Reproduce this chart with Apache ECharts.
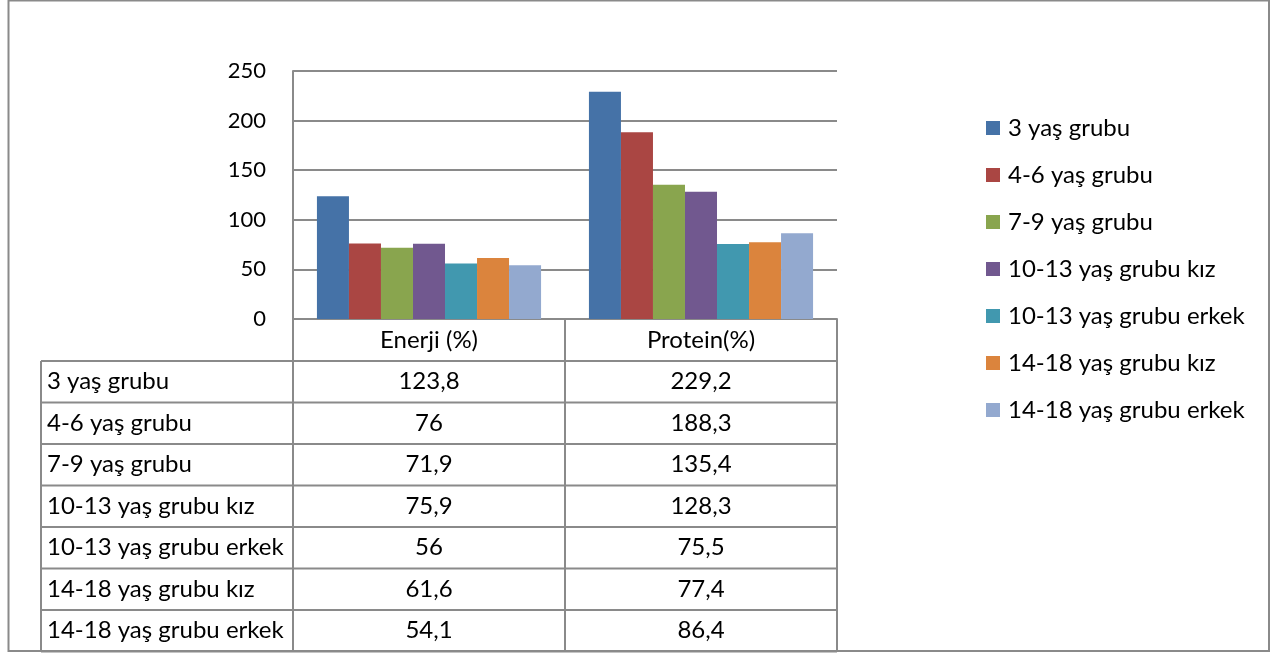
<!DOCTYPE html>
<html>
<head>
<meta charset="utf-8">
<script src="https://cdn.jsdelivr.net/npm/echarts@6/dist/echarts.min.js"></script>
<style>
html, body { margin: 0; padding: 0; background: #fff; }
#chart { width: 1284px; height: 653px; }
</style>
</head>
<body>
<div id="chart"></div>
<script>
// Nutrient adequacy (%) by age group
const categories = ['Enerji (%)', 'Protein(%)'];
const groups = [
  '3 yaş grubu',
  '4-6 yaş grubu',
  '7-9 yaş grubu',
  '10-13 yaş grubu kız',
  '10-13 yaş grubu erkek',
  '14-18 yaş grubu kız',
  '14-18 yaş grubu erkek'
];
const enerji = [123.8, 76, 71.9, 75.9, 56, 61.6, 54.1];
const protein = [229.2, 188.3, 135.4, 128.3, 75.5, 77.4, 86.4];
const yTicks = [0, 50, 100, 150, 200, 250];
const colors = ['#4572A7', '#AA4643', '#89A54E', '#71588F', '#4198AF', '#DB843D', '#93A9CF'];

const FONT = 'Lato';
const FS = 24;
const LINE = '#8a8a8a';

// layout
const gridLeft = 293, gridTop = 71, gridRight = 1284 - 837, gridBottom = 653 - 319;
const zeroY = 653 - gridBottom;
const headerH = 42;
const rowH = 41.5;
const tableLeft = 41;

const fmt = v => String(v).replace('.', ',');

const chart = echarts.init(document.getElementById('chart'), null, { renderer: 'canvas' });

const series = groups.map((name, i) => ({
  name: name,
  type: 'bar',
  data: [enerji[i], protein[i]],
  itemStyle: { color: colors[i] },
  barGap: '0%',
  barCategoryGap: '17.6%'
}));

chart.setOption({
  animation: false,
  color: colors,
  textStyle: { fontFamily: FONT },
  grid: { left: gridLeft, right: gridRight, top: gridTop, bottom: gridBottom, containLabel: false },
  legend: {
    orient: 'vertical',
    left: 986,
    top: 116,
    padding: 0,
    icon: 'rect',
    itemWidth: 14,
    itemHeight: 14,
    itemGap: 23,
    data: groups,
    textStyle: { fontFamily: FONT, fontSize: FS, color: '#000', padding: [0, 0, 0, 3] }
  },
  xAxis: {
    type: 'category',
    data: categories,
    axisLine: { show: true, lineStyle: { color: LINE, width: 2 } },
    axisTick: { show: true, length: headerH, interval: 0, lineStyle: { color: LINE, width: 2 } },
    axisLabel: { margin: 9, fontFamily: FONT, fontSize: FS, color: '#000' }
  },
  yAxis: {
    type: 'value',
    min: yTicks[0],
    max: yTicks[yTicks.length - 1],
    interval: yTicks[1] - yTicks[0],
    axisLine: { show: true, lineStyle: { color: LINE, width: 2 } },
    axisTick: { show: false },
    axisLabel: { margin: 27, fontFamily: FONT, fontSize: 22, color: '#000' },
    splitLine: { show: true, lineStyle: { color: LINE, width: 2 } }
  },
  series: series
});

// data table under the category axis
function drawTable() {
  const xs = categories.map((c, i) => chart.convertToPixel({ xAxisIndex: 0 }, i));
  const half = (xs[1] - xs[0]) / 2;
  const colEdges = [tableLeft, xs[0] - half, xs[0] + half, xs[1] + half];
  const top = zeroY + headerH;
  const bottom = top + rowH * groups.length;
  const els = [];

  // outer frame of the whole chart
  els.push({
    type: 'rect',
    shape: { x: 8.5, y: 0.5, width: 1260.5, height: 650.5 },
    style: { fill: 'none', stroke: LINE, lineWidth: 2 },
    z: 10
  });

  // vertical axis line continuing through the header row
  els.push({
    type: 'line',
    shape: { x1: colEdges[1], y1: zeroY, x2: colEdges[1], y2: top },
    style: { stroke: LINE, lineWidth: 2 }
  });

  for (let r = 0; r <= groups.length; r++) {
    const y = top + r * rowH;
    els.push({
      type: 'line',
      shape: { x1: colEdges[0], y1: y, x2: colEdges[3], y2: y },
      style: { stroke: LINE, lineWidth: 2 }
    });
  }
  colEdges.forEach(x => {
    els.push({
      type: 'line',
      shape: { x1: x, y1: top, x2: x, y2: bottom },
      style: { stroke: LINE, lineWidth: 2 }
    });
  });

  groups.forEach((g, r) => {
    const cy = top + r * rowH + rowH / 2;
    els.push({
      type: 'text',
      style: { text: g, x: colEdges[0] + 6, y: cy, align: 'left', verticalAlign: 'middle',
               font: FS + 'px ' + FONT, fill: '#000' }
    });
    [enerji[r], protein[r]].forEach((v, c) => {
      els.push({
        type: 'text',
        style: { text: fmt(v), x: xs[c], y: cy, align: 'center', verticalAlign: 'middle',
                 font: FS + 'px ' + FONT, fill: '#000' }
      });
    });
  });

  chart.setOption({ graphic: { elements: els } });
}
drawTable();
</script>
</body>
</html>
